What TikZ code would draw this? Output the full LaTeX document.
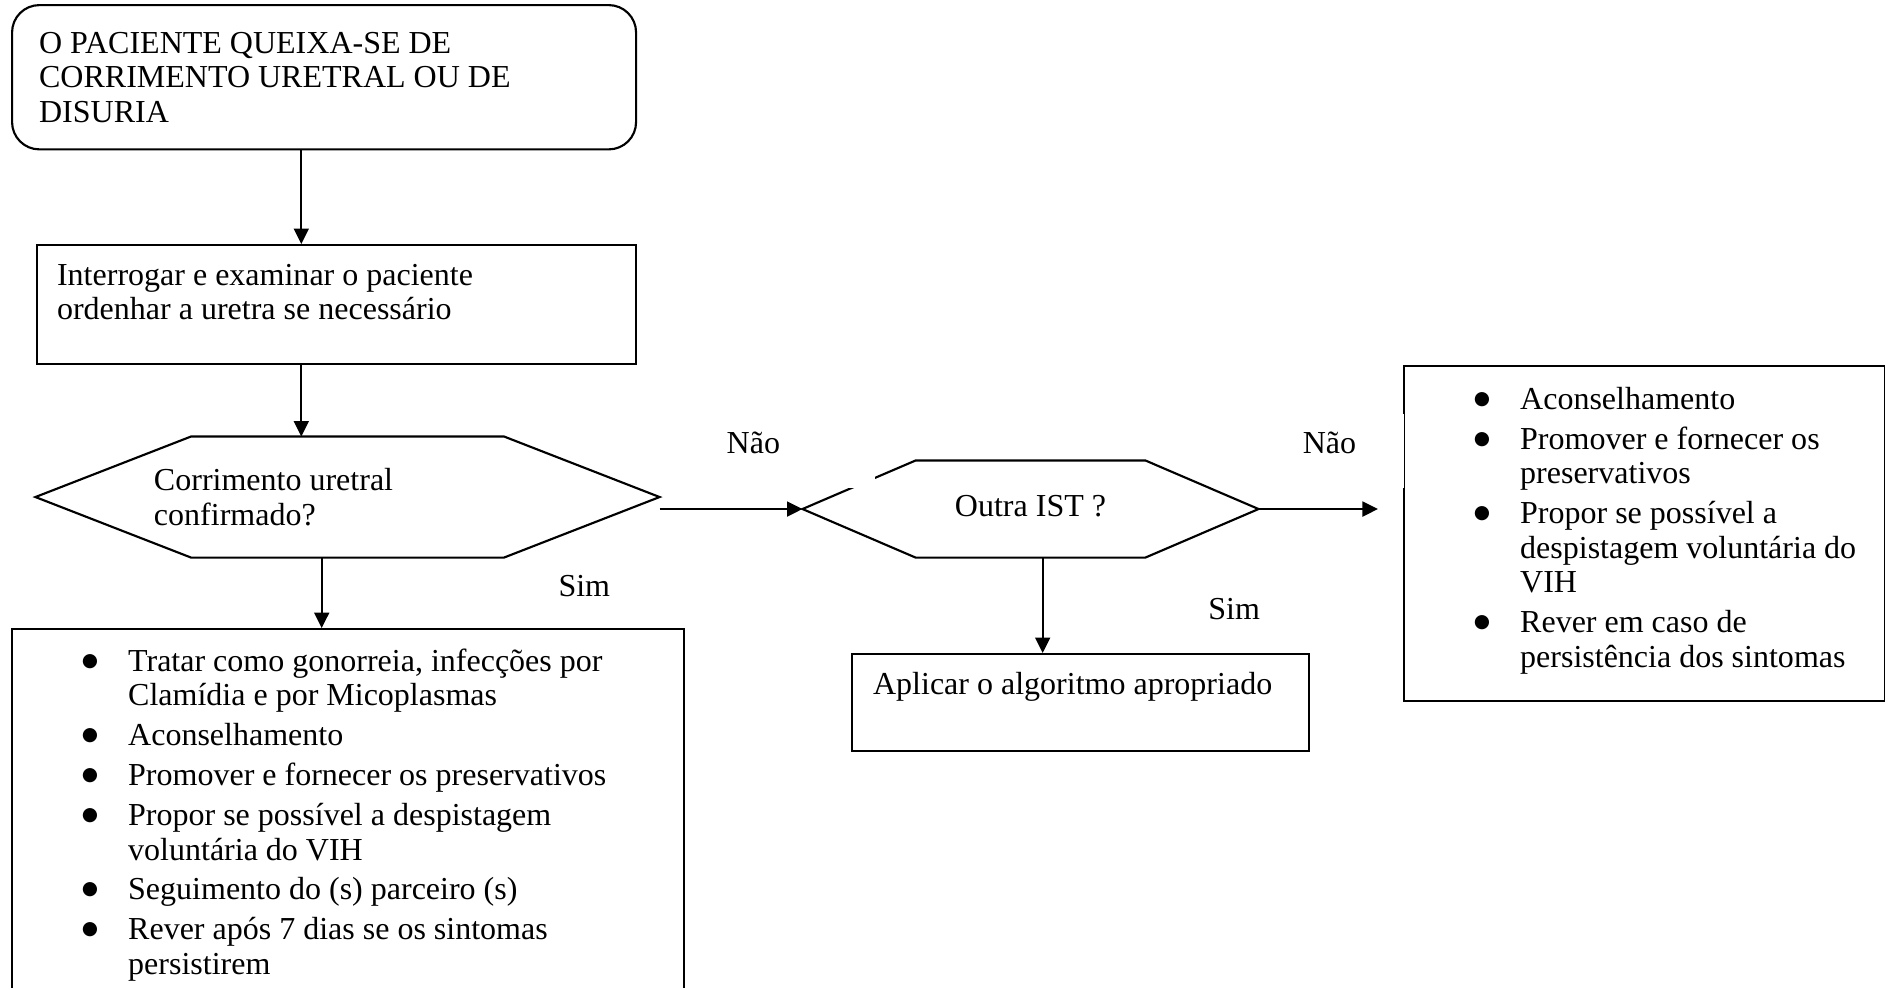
\documentclass[tikz,border=0pt]{standalone}
\usepackage{fontspec}
\setmainfont{Liberation Serif}
\newfontfamily\dejavu{DejaVu Sans}
\usetikzlibrary{arrows.meta, positioning}
\newcommand{\itm}{\hspace*{0.79cm}\makebox[0.61cm][l]{\raisebox{1.9pt}{\dejavu\fontsize{7}{8}\selectfont ●}}}
\newcommand{\itc}{\hspace*{1.40cm}}
\newcommand{\hexpath}[2]{%
  \draw[flowline] (#1.west) -- ([xshift=#2]#1.north west) -- ([xshift=-#2]#1.north east)
    -- (#1.east) -- ([xshift=-#2]#1.south east) -- ([xshift=#2]#1.south west) -- cycle;}
\tikzset{
  flowline/.style={line width=0.8pt},
  conn/.style={flowline, -{Triangle[length=5.8pt,width=5.6pt]}},
  txt/.style={font=\fontsize{12}{12.95}\selectfont, align=flush left},
  box/.style={txt, draw, line width=0.8pt, anchor=north west},
  hexa/.style={txt, inner ysep=0pt},
  lbl/.style={txt, inner sep=0pt},
  nao/.style={txt, fill=white, anchor=north east, inner xsep=0.13cm, inner ysep=0pt,
              text height=0.53cm, text depth=0.45cm},
}

\begin{document}
\begin{tikzpicture}
  \path[use as bounding box, clip] (0,0) rectangle (24.837,13.005);
  % Boxes
  \node[box, rounded corners=0.36cm, text width=7.51cm, inner xsep=0.356cm, inner ysep=0.356cm,
        text depth=0.91cm] (start) at (0.145,12.952)
    {O PACIENTE QUEIXA-SE DE\\CORRIMENTO URETRAL OU DE\\DISURIA};
  \node[box, text width=7.365cm, inner xsep=0.264cm, inner ysep=0.25cm, text depth=0.79cm]
    (exam) at (0.474,9.790) {Interrogar e examinar o paciente\\ordenhar a uretra se necessário};
  \node[box, text width=8.59cm, inner xsep=0.13cm, inner ysep=0.26cm, text depth=10cm]
    (trat) at (0.145,4.730)
    {\itm Tratar como gonorreia, infecções por\\
     \itc Clamídia e por Micoplasmas\\[2pt]
     \itm Aconselhamento\\[2pt]
     \itm Promover e fornecer os preservativos\\[2pt]
     \itm Propor se possível a despistagem\\
     \itc voluntária do VIH\\[2pt]
     \itm Seguimento do (s) parceiro (s)\\[2pt]
     \itm Rever após 7 dias se os sintomas\\
     \itc persistirem};
  \node[box, text width=5.47cm, inner xsep=0.277cm, inner ysep=0.24cm, text depth=0.50cm]
    (apl) at (11.213,4.401) {Aplicar o algoritmo apropriado};
  \node[box, text width=6.078cm, inner xsep=0.13cm, inner ysep=0.277cm, text depth=3.57cm]
    (acons) at (18.486,8.195)
    {\itm Aconselhamento\\[2pt]
     \itm Promover e fornecer os\\
     \itc preservativos\\[2pt]
     \itm Propor se possível a\\
     \itc despistagem voluntária do\\
     \itc VIH\\[2pt]
     \itm Rever em caso de\\
     \itc persistência dos sintomas};
  % Decisions
  \node[hexa, minimum height=1.581cm, text width=5.10cm, inner xsep=1.555cm] (q1) at (4.579,6.456)
    {Corrimento uretral\\confirmado?};
  \node[hexa, align=center, minimum width=5.995cm, minimum height=1.265cm, inner xsep=0pt,
        text depth=0.08cm] (q2) at (13.578,6.298) {Outra IST ?};
  \hexpath{q1}{2.05cm}
  \hexpath{q2}{1.49cm}
  % Arrows
  \path ([xshift=-0.30cm]start.south) coordinate (a1);
  \path ([xshift=-0.34cm]q1.south) coordinate (a3);
  \path ([xshift=0.16cm]q2.south) coordinate (a6);
  \path (acons.west |- q2.east) ++(-0.33,0) coordinate (naoend);
  \draw[conn] (a1) -- (a1 |- exam.north);
  \draw[conn] (a1 |- exam.south) -- (a1 |- q1.north);
  \draw[conn] (a3) -- (a3 |- trat.north);
  \draw[conn] (q1.east |- q2.west) -- (q2.west);
  \draw[conn] (q2.east) -- (naoend);
  \draw[conn] (a6) -- (a6 |- apl.north);
  % Labels
  \node[nao, text width=1.83cm] (nao1) at (11.542,7.563) {Não};
  \node[nao, text width=1.21cm] (nao2) at (18.512,7.563) {Não};
  \node[lbl, anchor=base west] (sim1) at (7.352,5.152) {Sim};
  \node[lbl, anchor=base west] (sim2) at (15.915,4.836) {Sim};
\end{tikzpicture}
\end{document}
